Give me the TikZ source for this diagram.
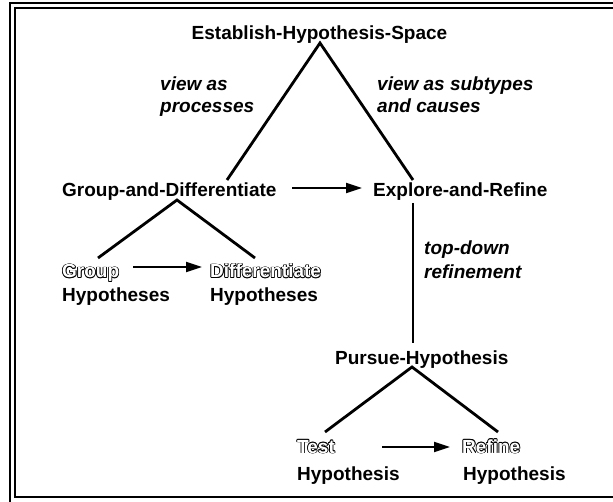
\documentclass[tikz,border=0pt]{standalone}
\usepackage{fontspec}
\setmainfont{Liberation Sans}
\usetikzlibrary{arrows.meta}

% hollow lettering: black copies shifted around, white text on top
\newcommand\olcopy[3]{\rlap{\kern#1\raisebox{#2}{#3}}}
\newcommand\hollow[1]{{\color{black}%
  \olcopy{0.75pt}{0pt}{#1}\olcopy{-0.75pt}{0pt}{#1}%
  \olcopy{0pt}{0.75pt}{#1}\olcopy{0pt}{-0.75pt}{#1}%
  \olcopy{0.55pt}{0.55pt}{#1}\olcopy{-0.55pt}{0.55pt}{#1}%
  \olcopy{0.55pt}{-0.55pt}{#1}\olcopy{-0.55pt}{-0.55pt}{#1}}%
  \textcolor{white}{#1}}

\begin{document}
\begin{tikzpicture}[x=1pt,y=-1pt,
  lbl/.style={font=\fontsize{19}{22}\selectfont\bfseries, inner sep=0pt, anchor=base west},
  note/.style={lbl, font=\fontsize{19}{22}\selectfont\bfseries\itshape},
  link/.style={line width=2.8pt},
  flow/.style={line width=2.2pt, -{Triangle[length=16pt,width=10pt]}},
  rule/.style={line width=2pt}]

\useasboundingbox (0,0) rectangle (613,502);

% double frame on the left and top, single rule at the bottom
\draw[rule] (10,502) -- (10,3) -- (613,3);
\draw[rule] (613,8) -- (14.5,8) -- (14.5,497) -- (613,497);

% task names
\node[lbl, anchor=base] (est) at (319.5,40) {Establish-Hypothesis-Space};
\node[lbl] (gad) at (62,197) {Group-and-Differentiate};
\node[lbl] (ear) at (373,197) {Explore-and-Refine};
\node[lbl] (grp) at (62,278) {\hollow{Group}};
\node[lbl] (grph) at (62,302) {Hypotheses};
\node[lbl] (dif) at (210,278) {\hollow{Differentiate}};
\node[lbl] (difh) at (210,302) {Hypotheses};
\node[lbl] (ph) at (335,365) {Pursue-Hypothesis};
\node[lbl] (tst) at (297,453) {\hollow{Test}};
\node[lbl] (tsth) at (297,480) {Hypothesis};
\node[lbl] (ref) at (462,453) {\hollow{Refine}};
\node[lbl] (refh) at (463,480) {Hypothesis};

% branch annotations
\node[note] (va1) at (160,91) {view as};
\node[note] (va2) at (160,113) {processes};
\node[note] (vs1) at (377,91) {view as subtypes};
\node[note] (vs2) at (377,113) {and causes};
\node[note] (td1) at (424,255) {top-down};
\node[note] (td2) at (424,279) {refinement};

% branch points
\coordinate (estA) at (320,43);
\coordinate (gadT) at (227,180);
\coordinate (earT) at (413,180);
\coordinate (gadA) at (177,200);
\coordinate (grpT) at (98,258);
\coordinate (difT) at (255,258);
\coordinate (earB) at (413,203);
\coordinate (phT) at (413,343);
\coordinate (phA) at (412,367);
\coordinate (tstT) at (325,432);
\coordinate (refT) at (498,432);

% decomposition links
\draw[link] (gadT) -- (estA) -- (earT);
\draw[link] (grpT) -- (gadA) -- (difT);
\draw[link] (earB) -- (phT);
\draw[link] (tstT) -- (phA) -- (refT);

% sequencing arrows
\coordinate (f1s) at (292,188);
\coordinate (f1e) at (362,188);
\coordinate (f2s) at (133,267);
\coordinate (f2e) at (202,267);
\coordinate (f3s) at (382,447);
\coordinate (f3e) at (450,447);
\draw[flow] (f1s) -- (f1e);
\draw[flow] (f2s) -- (f2e);
\draw[flow] (f3s) -- (f3e);
\end{tikzpicture}
\end{document}
